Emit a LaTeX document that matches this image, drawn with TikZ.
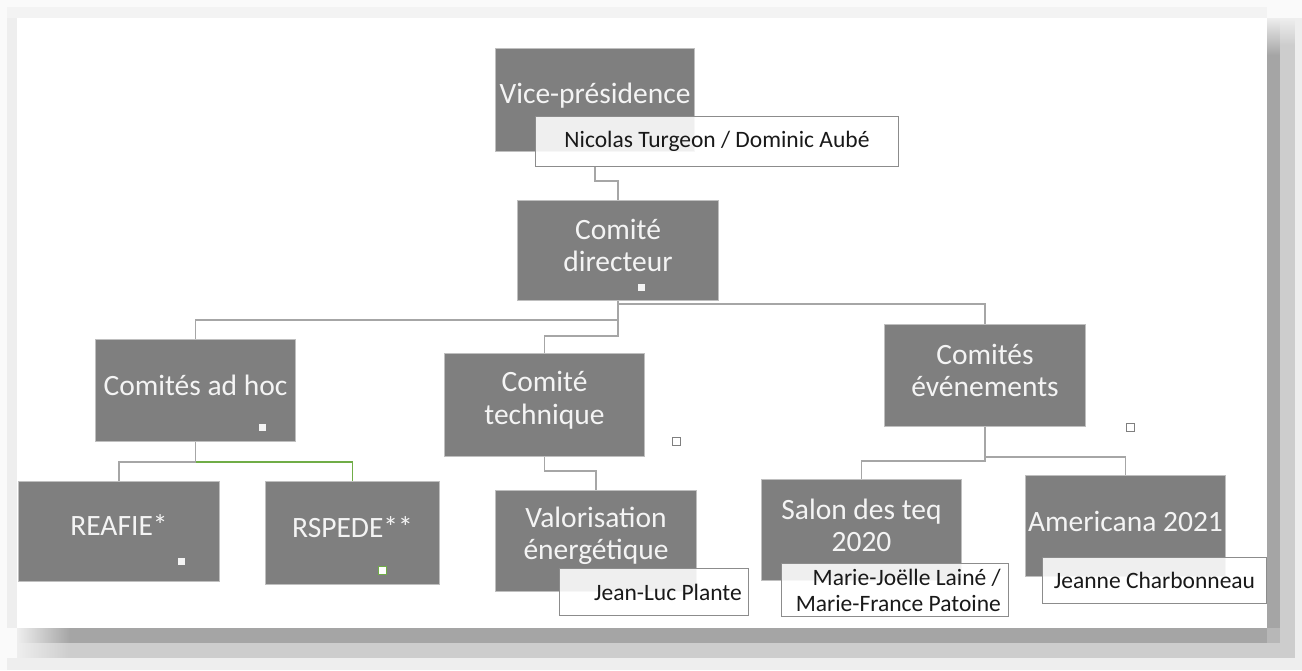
\documentclass[tikz,border=0pt]{standalone}
\usepackage{fontspec}
\setmainfont{Carlito}
\usetikzlibrary{calc}
\definecolor{boxgray}{HTML}{7F7F7F}
\definecolor{boxline}{HTML}{BFBFBF}
\definecolor{boxtext}{HTML}{F4F4F4}
\definecolor{nameline}{HTML}{8C8C8C}
\definecolor{conncol}{HTML}{A6A6A6}
\definecolor{conngreen}{HTML}{70AD47}
\definecolor{sh1}{HTML}{A5A5A5}
\definecolor{sh2}{HTML}{CDCDCD}
\definecolor{sh3}{HTML}{EEEEEE}
\definecolor{bgout}{HTML}{FAFAFA}
\tikzset{
  orgbox/.style={draw=boxline, line width=1pt, fill=boxgray, anchor=north west, inner sep=0pt},
  namebox/.style={draw=nameline, line width=1pt, fill=white, fill opacity=0.88, text opacity=1, anchor=north west, inner sep=0pt},
  boxtxt/.style={text=boxtext, align=center, inner sep=0pt, font=\fontsize{29.5}{32.5}\selectfont},
  nametxt/.style={text=black!90, inner sep=0pt, font=\fontsize{23.5}{26}\selectfont},
  conn/.style={draw=conncol, line width=1.6pt},
  conng/.style={draw=conngreen, line width=1.6pt},
  dot/.style={fill=boxtext, minimum size=7pt, inner sep=0pt},
  odot/.style={draw=boxgray, fill=white, line width=1pt, minimum size=8pt, inner sep=0pt},
}
\begin{document}
\begin{tikzpicture}[x=1pt,y=-1pt]
\useasboundingbox (0,0) rectangle (1302,670);
% background and frame shadow
\fill[bgout] (0,0) rectangle (1302,670);
\fill[sh3!70!white] (7,7) rectangle (1267,18);
\fill[sh3] (7,18) rectangle (17,628);
\shade[top color=sh3, bottom color=sh1] (1267,18) rectangle (1280,55);
\fill[sh1] (1267,55) rectangle (1280,628);
\shade[top color=sh3, bottom color=sh2] (1280,18) rectangle (1295,45);
\fill[sh2] (1280,45) rectangle (1295,643);
\fill[sh3] (1295,18) rectangle (1302,658);
\shade[left color=sh3, right color=sh1] (17,628) rectangle (70,643);
\fill[sh1] (70,628) rectangle (1267,643);
\fill[sh1!80!white] (1267,628) rectangle (1280,643);
\shade[left color=sh3, right color=sh2] (17,643) rectangle (70,658);
\fill[sh2] (70,643) rectangle (1295,658);
\fill[sh3] (7,658) rectangle (1302,670);
\fill[white] (17,18) rectangle (1267,628);

% boxes
\node[orgbox, minimum width=199pt, minimum height=103pt] (vp) at (495,48) {};
\node[orgbox, minimum width=201pt, minimum height=100pt] (cd) at (517,200) {};
\node[orgbox, minimum width=200pt, minimum height=102pt] (adhoc) at (95,339) {};
\node[orgbox, minimum width=200pt, minimum height=103pt] (tech) at (444,353) {};
\node[orgbox, minimum width=201pt, minimum height=102pt] (evt) at (884,324) {};
\node[orgbox, minimum width=201pt, minimum height=100pt] (reafie) at (18,481) {};
\node[orgbox, minimum width=174pt, minimum height=103pt] (rspede) at (265,481) {};
\node[orgbox, minimum width=201pt, minimum height=101pt] (valo) at (495,490) {};
\node[orgbox, minimum width=200pt, minimum height=101pt] (salon) at (761,479) {};
\node[orgbox, minimum width=200pt, minimum height=101pt] (amer) at (1025,475) {};

% box texts
\node[boxtxt] (vp-t) at ([yshift=4pt]vp.center) {Vice-présidence};
\node[boxtxt] (cd-t) at ([yshift=5pt]cd.center) {Comité\\directeur};
\node[boxtxt] (adhoc-t) at ([yshift=5pt]adhoc.center) {Comités ad hoc};
\node[boxtxt] (tech-t) at ([yshift=5pt]tech.center) {Comité\\technique};
\node[boxtxt] (evt-t) at ([yshift=5pt]evt.center) {Comités\\événements};
\node[boxtxt] (reafie-t) at ([yshift=6pt]reafie.center) {REAFIE*};
\node[boxtxt] (rspede-t) at ([yshift=5.5pt]rspede.center) {RSPEDE**};
\node[boxtxt] (valo-t) at ([yshift=5pt]valo.center) {Valorisation\\énergétique};
\node[boxtxt] (salon-t) at ([yshift=4.5pt]salon.center) {Salon des teq\\2020};
\node[boxtxt] (amer-t) at ([yshift=5pt]amer.center) {Americana 2021};

% small squares
\node[dot] (cd-d) at (641,287) {};
\node[dot] (adhoc-d) at (262,427) {};
\node[dot] (reafie-d) at (181,561) {};
\node[dot, draw=conngreen, fill=white, line width=1pt, minimum size=8pt] (rspede-d) at (382,570) {};
\node[odot] (tech-d) at (676,441) {};
\node[odot] (evt-d) at (1130,427) {};

% name boxes
\node[namebox, minimum width=363pt, minimum height=50pt] (vpn) at (535,116) {};
\node[nametxt] (vpn-t) at (vpn.center) {Nicolas Turgeon / Dominic Aubé};
\node[namebox, minimum width=189pt, minimum height=47pt] (valon) at (559,568) {};
\node[nametxt, anchor=east] (valon-t) at ([xshift=-7pt]valon.east) {Jean-Luc Plante};
\node[namebox, minimum width=227pt, minimum height=53pt] (salonn) at (781,563) {};
\node[nametxt, anchor=east, align=right] (salonn-t) at ([xshift=-8pt]salonn.east) {Marie-Joëlle Lainé /\\Marie-France Patoine};
\node[namebox, minimum width=224pt, minimum height=46pt] (amern) at (1042,557) {};
\node[nametxt] (amern-t) at (amern.center) {Jeanne Charbonneau};

% connectors
\draw[conn] (vp.south |- vpn.south) -- ++(0,14) -| (cd.north);
\draw[conn] (cd.south) -- ++(0,3) -| (evt.north);
\draw[conn] (cd.south) -- ++(0,19) -| (adhoc.north);
\draw[conn] (cd.south) -- ++(0,35) -| (tech.north);
\draw[conn] (adhoc.south) -- ++(0,20) -| (reafie.north);
\draw[conng] (adhoc.south) ++(0,20) -| (rspede.north);
\draw[conn] (tech.south) -- ++(0,14) -| (valo.north);
\draw[conn] (evt.south) -- ++(0,34) -| (salon.north);
\draw[conn] (evt.south) -- ++(0,30) -| (amer.north);
\end{tikzpicture}
\end{document}
